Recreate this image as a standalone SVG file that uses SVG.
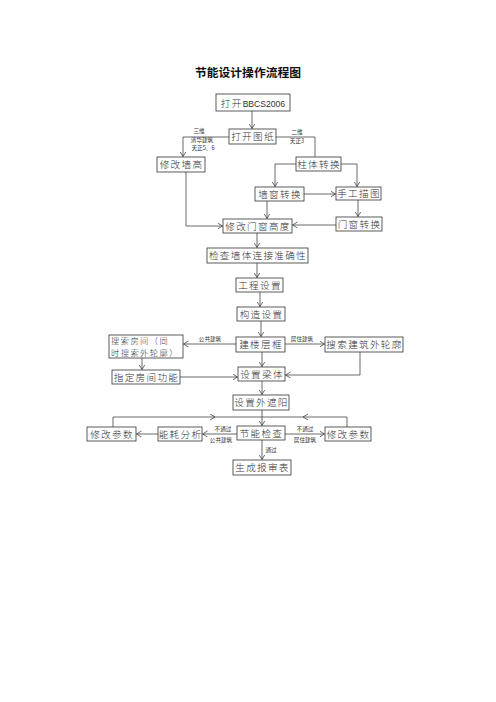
<svg xmlns="http://www.w3.org/2000/svg" width="496" height="702" viewBox="0 0 496 702">
<defs>
<style>
.b rect{fill:#fff;stroke:#333;stroke-width:0.8}
.b text{font-family:"Noto Sans CJK SC","Liberation Sans",sans-serif;font-size:9.6px;font-weight:300;fill:#333;text-anchor:middle;letter-spacing:1.3px}
.b text.s{font-size:8.2px;text-anchor:start;letter-spacing:1.5px}
.c path{fill:none;stroke:#444;stroke-width:0.8}
.l{font-family:"Noto Sans CJK SC","Liberation Sans",sans-serif;font-size:5.6px;fill:#333;text-anchor:middle}
</style>
<marker id="a" markerUnits="userSpaceOnUse" markerWidth="8" markerHeight="8" refX="5" refY="3" orient="auto">
<path d="M0,0 L5,3 L0,6" fill="none" stroke="#444" stroke-width="0.8"/>
</marker>
</defs>
<rect width="496" height="702" fill="#fff"/>
<text x="248" y="77" font-family="Noto Sans CJK SC,sans-serif" font-size="11.8" font-weight="bold" text-anchor="middle" fill="#111">节能设计操作流程图</text>

<g class="c">
<path d="M252,111 V128.5" marker-end="url(#a)"/>
<path d="M229,137 H183 V156.5" marker-end="url(#a)"/>
<path d="M276,137 H315 V156.5"/>
<path d="M296,164 H275 V186.5" marker-end="url(#a)"/>
<path d="M341,164 H357 V186.5" marker-end="url(#a)"/>
<path d="M304,194 H335.5" marker-end="url(#a)"/>
<path d="M267,201 V218.5" marker-end="url(#a)"/>
<path d="M186,172 V226 H222.5" marker-end="url(#a)"/>
<path d="M358,200 V216.5" marker-end="url(#a)"/>
<path d="M336,225 H292.5" marker-end="url(#a)"/>
<path d="M257,233 V247.5" marker-end="url(#a)"/>
<path d="M257,263 V277.5" marker-end="url(#a)"/>
<path d="M260,292 V306.5" marker-end="url(#a)"/>
<path d="M261,321 V336.5" marker-end="url(#a)"/>
<path d="M236,344 H183.5" marker-end="url(#a)"/>
<path d="M285,344 H324.5" marker-end="url(#a)"/>
<path d="M142,358 V369.5" marker-end="url(#a)"/>
<path d="M180,377 H237.5" marker-end="url(#a)"/>
<path d="M360,352 V375 H285.5" marker-end="url(#a)"/>
<path d="M262,352 V366.5" marker-end="url(#a)"/>
<path d="M262,381 V394.5" marker-end="url(#a)"/>
<path d="M262,410 V425.5" marker-end="url(#a)"/>
<path d="M113,427 V417 H215" marker-end="url(#a)"/>
<path d="M215,417 H262"/>
<path d="M347,427 V417 H303" marker-end="url(#a)"/>
<path d="M303,417 H262"/>
<path d="M237,434 H202.5" marker-end="url(#a)"/>
<path d="M158,434 H136.5" marker-end="url(#a)"/>
<path d="M285,434 H324.5" marker-end="url(#a)"/>
<path d="M262,440 V459.5" marker-end="url(#a)"/>
</g>

<g id="n1" class="b"><rect x="216" y="94" width="74" height="17"/><text x="253" y="106.5">打开<tspan font-family="Liberation Sans,sans-serif" font-size="8.6" letter-spacing="0">BBCS2006</tspan></text></g>
<g id="n2" class="b"><rect x="229" y="129" width="47" height="15"/><text x="253" y="140">打开图纸</text></g>
<g id="n3" class="b"><rect x="157" y="157" width="48" height="15"/><text x="181.5" y="168">修改墙高</text></g>
<g id="n4" class="b"><rect x="296" y="157" width="45" height="14"/><text x="319" y="167.5">柱体转换</text></g>
<g id="n5" class="b"><rect x="255" y="187" width="49" height="14"/><text x="280" y="197.5">墙窗转换</text></g>
<g id="n6" class="b"><rect x="336" y="187" width="45" height="13"/><text x="359" y="197">手工描图</text></g>
<g id="n7" class="b"><rect x="223" y="219" width="69" height="14"/><text x="258" y="229.5">修改门窗高度</text></g>
<g id="n8" class="b"><rect x="336" y="217" width="46" height="14"/><text x="359.5" y="227.5">门窗转换</text></g>
<g id="n9" class="b"><rect x="207" y="248" width="101" height="15"/><text x="258" y="259">检查墙体连接准确性</text></g>
<g id="n10" class="b"><rect x="236" y="278" width="47" height="14"/><text x="260" y="288.5">工程设置</text></g>
<g id="n11" class="b"><rect x="237" y="307" width="48" height="14"/><text x="261.5" y="317.5">构造设置</text></g>
<g id="n12" class="b"><rect x="236" y="337" width="49" height="15"/><text x="261" y="348">建楼层框</text></g>
<g id="n13" class="b"><rect x="109" y="335" width="74" height="23"/><text class="s" x="111" y="344">搜索房间（同</text><text class="s" x="111" y="356">时搜索外轮廓）</text></g>
<g id="n14" class="b"><rect x="325" y="337" width="78" height="15"/><text x="364.5" y="348">搜索建筑外轮廓</text></g>
<g id="n15" class="b"><rect x="112" y="370" width="68" height="14"/><text x="146.5" y="380.5">指定房间功能</text></g>
<g id="n16" class="b"><rect x="238" y="367" width="47" height="14"/><text x="262" y="377.5">设置梁体</text></g>
<g id="n17" class="b"><rect x="233" y="395" width="56" height="15"/><text x="261.5" y="406">设置外遮阳</text></g>
<g id="n18" class="b"><rect x="237" y="426" width="48" height="14"/><text x="261.5" y="436.5">节能检查</text></g>
<g id="n19" class="b"><rect x="87" y="427" width="49" height="14"/><text x="112" y="437.5">修改参数</text></g>
<g id="n20" class="b"><rect x="158" y="427" width="44" height="14"/><text x="180.5" y="437.5">能耗分析</text></g>
<g id="n21" class="b"><rect x="325" y="427" width="46" height="14"/><text x="348.5" y="437.5">修改参数</text></g>
<g id="n22" class="b"><rect x="233" y="460" width="58" height="15"/><text x="262.5" y="471">生成报审表</text></g>

<g id="labels">
<text class="l" x="199" y="133">三维</text>
<text class="l" x="202" y="142">清华建筑</text>
<text class="l" x="203" y="150">天正5、6</text>
<text class="l" x="297" y="134">二维</text>
<text class="l" x="297" y="143">天正3</text>
<text class="l" x="210" y="341">公共建筑</text>
<text class="l" x="302" y="341">居住建筑</text>
<text class="l" x="223" y="431">不通过</text>
<text class="l" x="221" y="442">公共建筑</text>
<text class="l" x="305" y="431">不通过</text>
<text class="l" x="305" y="442">居住建筑</text>
<text class="l" x="271" y="452">通过</text>
</g>
</svg>
